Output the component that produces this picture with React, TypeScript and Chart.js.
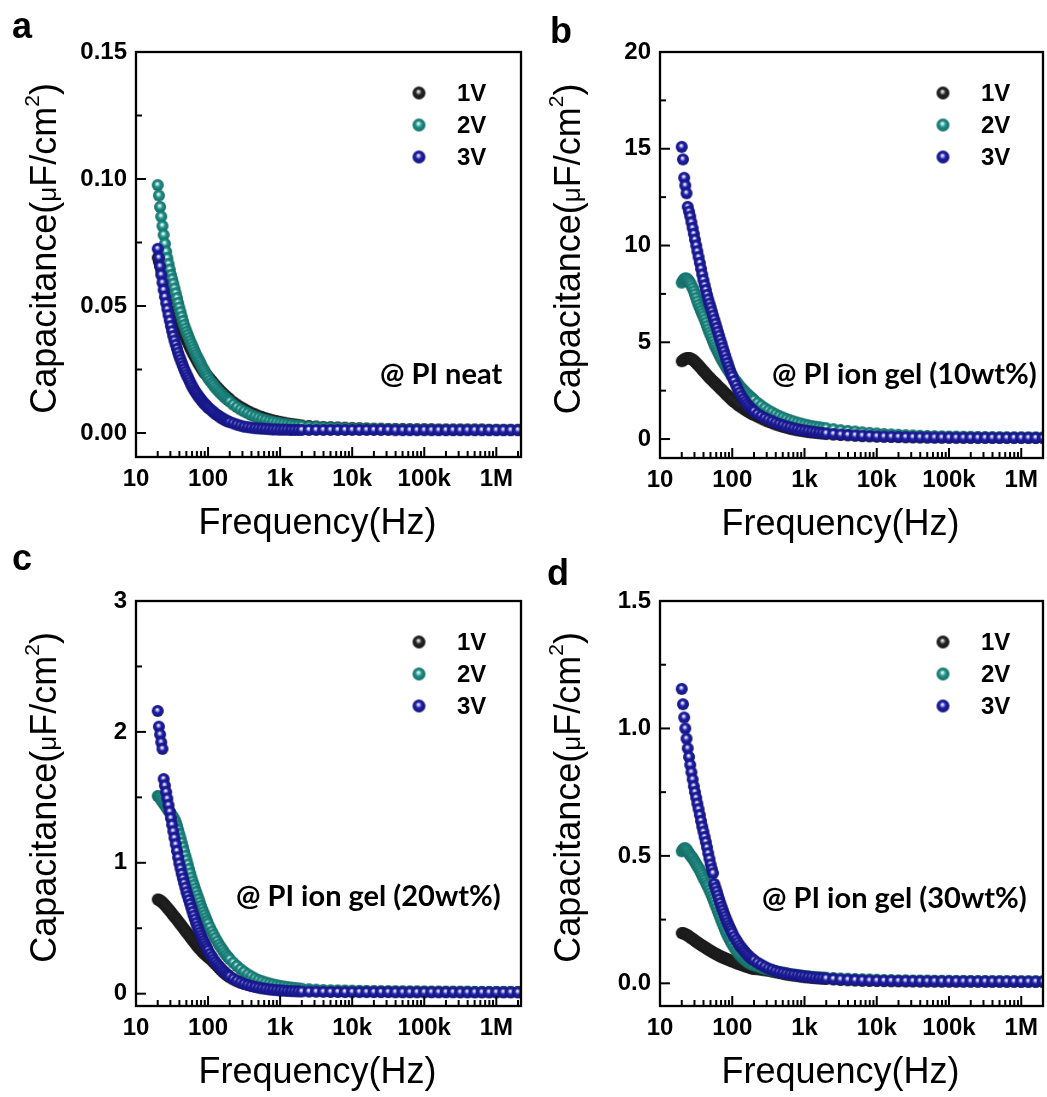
import React, { useEffect, useRef } from 'react';
import { Chart, registerables } from 'chart.js';

Chart.register(...registerables);

// ---------------- data ----------------
const FREQ = [
  20.0, 20.8, 21.6, 22.4, 23.3, 24.2, 25.2, 26.2, 27.2, 28.3,
  29.4, 30.5, 31.7, 32.9, 34.2, 35.6, 37.0, 38.4, 39.9, 41.5,
  43.1, 44.8, 46.5, 48.4, 50.2, 52.2, 54.2, 56.4, 58.6, 60.9,
  63.2, 65.7, 68.3, 71.0, 73.7, 76.6, 79.6, 82.7, 86.0, 89.3,
  92.8, 96.5, 100, 106, 113, 119, 126, 134, 142, 150,
  159, 168, 178, 189, 200, 224, 251, 282, 316, 355,
  398, 447, 501, 562, 631, 708, 794, 891, 1000, 1122,
  1259, 1413, 1585, 1778, 1995, 2512, 3162, 3981, 5012, 6310,
  7943, 10000, 12589, 15849, 19953, 25119, 31623, 39811, 50119, 63096,
  79433, 100000, 125893, 158489, 199526, 251189, 316228, 398107, 501187, 630957,
  794328, 1000000, 1258925, 1584893, 1995262,
];

// (a) PI neat
const A_1V = [
  0.0690, 0.0673, 0.0657, 0.0640, 0.0623, 0.0607, 0.0592, 0.0577, 0.0563, 0.0548,
  0.0534, 0.0520, 0.0507, 0.0494, 0.0481, 0.0468, 0.0456, 0.0444, 0.0432, 0.0421,
  0.0409, 0.0398, 0.0387, 0.0377, 0.0366, 0.0356, 0.0346, 0.0336, 0.0327, 0.0317,
  0.0308, 0.0299, 0.0291, 0.0282, 0.0274, 0.0266, 0.0258, 0.0251, 0.0243, 0.0237,
  0.0232, 0.0227, 0.0222, 0.0214, 0.0205, 0.0196, 0.0188, 0.0180, 0.0172, 0.0165,
  0.0158, 0.0151, 0.0145, 0.0139, 0.0133, 0.0122, 0.0112, 0.0103, 0.0095, 0.0087,
  0.0080, 0.0074, 0.0068, 0.0063, 0.0058, 0.0054, 0.0050, 0.0047, 0.0044, 0.0041,
  0.0038, 0.0036, 0.0034, 0.0032, 0.0030, 0.0028, 0.0026, 0.0024, 0.0023, 0.0022,
  0.0021, 0.0020, 0.0019, 0.0018, 0.0017, 0.0017, 0.0016, 0.0016, 0.0016, 0.0015,
  0.0015, 0.0015, 0.0015, 0.0014, 0.0014, 0.0014, 0.0014, 0.0014, 0.0014, 0.0014,
  0.0013, 0.0013, 0.0013, 0.0013, 0.0013,
];
const A_2V = [
  0.0976, 0.0935, 0.0890, 0.0852, 0.0815, 0.0780, 0.0745, 0.0714, 0.0688, 0.0665,
  0.0643, 0.0622, 0.0606, 0.0588, 0.0569, 0.0550, 0.0531, 0.0512, 0.0494, 0.0476,
  0.0458, 0.0441, 0.0425, 0.0411, 0.0398, 0.0386, 0.0374, 0.0362, 0.0351, 0.0340,
  0.0329, 0.0318, 0.0308, 0.0298, 0.0289, 0.0280, 0.0270, 0.0261, 0.0252, 0.0243,
  0.0234, 0.0225, 0.0216, 0.0206, 0.0197, 0.0188, 0.0179, 0.0171, 0.0163, 0.0156,
  0.0149, 0.0142, 0.0136, 0.0130, 0.0124, 0.0112, 0.0102, 0.0093, 0.0085, 0.0078,
  0.0071, 0.0065, 0.0060, 0.0055, 0.0051, 0.0047, 0.0044, 0.0041, 0.0038, 0.0036,
  0.0034, 0.0032, 0.0030, 0.0029, 0.0027, 0.0025, 0.0024, 0.0022, 0.0021, 0.0020,
  0.0019, 0.0018, 0.0017, 0.0016, 0.0016, 0.0015, 0.0015, 0.0015, 0.0014, 0.0014,
  0.0014, 0.0014, 0.0013, 0.0013, 0.0013, 0.0013, 0.0013, 0.0013, 0.0013, 0.0013,
  0.0012, 0.0012, 0.0012, 0.0012, 0.0012,
];
const A_3V = [
  0.0725, 0.0690, 0.0656, 0.0623, 0.0592, 0.0563, 0.0536, 0.0511, 0.0487, 0.0464,
  0.0442, 0.0421, 0.0401, 0.0382, 0.0364, 0.0347, 0.0331, 0.0316, 0.0302, 0.0289,
  0.0276, 0.0264, 0.0252, 0.0241, 0.0230, 0.0220, 0.0210, 0.0200, 0.0190, 0.0181,
  0.0172, 0.0165, 0.0158, 0.0151, 0.0144, 0.0138, 0.0132, 0.0126, 0.0120, 0.0115,
  0.0110, 0.0105, 0.0100, 0.0094, 0.0088, 0.0082, 0.0076, 0.0071, 0.0066, 0.0061,
  0.0057, 0.0053, 0.0049, 0.0046, 0.0043, 0.0038, 0.0033, 0.0029, 0.0025, 0.0023,
  0.0021, 0.0019, 0.0018, 0.0017, 0.0016, 0.0015, 0.0014, 0.0014, 0.0013, 0.0013,
  0.0013, 0.0012, 0.0012, 0.0012, 0.0012, 0.0012, 0.0012, 0.0012, 0.0012, 0.0012,
  0.0012, 0.0012, 0.0012, 0.0012, 0.0012, 0.0012, 0.0012, 0.0011, 0.0011, 0.0011,
  0.0011, 0.0011, 0.0011, 0.0011, 0.0011, 0.0011, 0.0011, 0.0011, 0.0011, 0.0011,
  0.0011, 0.0011, 0.0011, 0.0011, 0.0011,
];

// (b) PI ion gel 10wt%
const B_1V = [
  4.02, 4.07, 4.11, 4.15, 4.17, 4.19, 4.19, 4.17, 4.14, 4.10,
  4.05, 4.00, 3.94, 3.87, 3.80, 3.73, 3.66, 3.59, 3.52, 3.45,
  3.38, 3.31, 3.24, 3.18, 3.11, 3.05, 2.99, 2.93, 2.87, 2.81,
  2.74, 2.68, 2.62, 2.56, 2.50, 2.44, 2.37, 2.31, 2.25, 2.19,
  2.12, 2.06, 2.00, 1.92, 1.85, 1.77, 1.70, 1.64, 1.58, 1.52,
  1.46, 1.40, 1.34, 1.29, 1.24, 1.15, 1.06, 0.97, 0.89, 0.82,
  0.75, 0.69, 0.63, 0.58, 0.53, 0.49, 0.45, 0.42, 0.39, 0.36,
  0.34, 0.32, 0.30, 0.28, 0.26, 0.23, 0.21, 0.19, 0.17, 0.15,
  0.14, 0.13, 0.12, 0.11, 0.10, 0.095, 0.09, 0.085, 0.08, 0.078,
  0.075, 0.072, 0.07, 0.068, 0.066, 0.065, 0.064, 0.063, 0.062, 0.061,
  0.06, 0.06, 0.059, 0.058, 0.058,
];
const B_2V = [
  8.08, 8.18, 8.26, 8.30, 8.29, 8.24, 8.16, 8.06, 7.94, 7.80,
  7.64, 7.47, 7.29, 7.11, 6.93, 6.77, 6.62, 6.48, 6.34, 6.18,
  6.01, 5.84, 5.67, 5.51, 5.36, 5.20, 5.05, 4.90, 4.76, 4.63,
  4.51, 4.38, 4.26, 4.14, 4.02, 3.92, 3.82, 3.72, 3.62, 3.52,
  3.42, 3.33, 3.24, 3.11, 2.99, 2.87, 2.75, 2.64, 2.54, 2.44,
  2.35, 2.26, 2.18, 2.10, 2.02, 1.87, 1.73, 1.60, 1.48, 1.38,
  1.28, 1.19, 1.11, 1.04, 0.97, 0.91, 0.85, 0.80, 0.75, 0.71,
  0.67, 0.64, 0.61, 0.58, 0.56, 0.51, 0.46, 0.42, 0.39, 0.35,
  0.32, 0.29, 0.26, 0.24, 0.22, 0.20, 0.185, 0.17, 0.16, 0.15,
  0.14, 0.13, 0.125, 0.12, 0.115, 0.11, 0.105, 0.10, 0.098, 0.095,
  0.092, 0.09, 0.088, 0.086, 0.085,
];
const B_3V = [
  15.1, 14.45, 13.5, 13.1, 12.7, 12.0, 11.75, 11.5, 11.2, 10.9,
  10.6, 10.3, 10.0, 9.7, 9.4, 9.1, 8.8, 8.5, 8.22, 7.95,
  7.7, 7.45, 7.22, 7.0, 6.8, 6.59, 6.38, 6.17, 5.96, 5.75,
  5.54, 5.34, 5.13, 4.93, 4.72, 4.52, 4.32, 4.12, 3.93, 3.74,
  3.56, 3.39, 3.23, 3.0, 2.78, 2.58, 2.40, 2.23, 2.07, 1.93,
  1.81, 1.70, 1.60, 1.51, 1.43, 1.30, 1.19, 1.09, 1.00, 0.92,
  0.84, 0.77, 0.71, 0.65, 0.60, 0.55, 0.51, 0.47, 0.44, 0.41,
  0.38, 0.355, 0.33, 0.31, 0.29, 0.26, 0.23, 0.21, 0.19, 0.17,
  0.155, 0.14, 0.13, 0.12, 0.11, 0.10, 0.095, 0.09, 0.085, 0.08,
  0.078, 0.075, 0.072, 0.07, 0.068, 0.066, 0.065, 0.064, 0.063, 0.062,
  0.061, 0.06, 0.06, 0.059, 0.058,
];

// (c) PI ion gel 20wt%
const C_1V = [
  0.720, 0.717, 0.712, 0.705, 0.697, 0.688, 0.678, 0.667, 0.656, 0.645,
  0.634, 0.623, 0.612, 0.600, 0.588, 0.577, 0.565, 0.554, 0.542, 0.530,
  0.518, 0.506, 0.494, 0.482, 0.470, 0.458, 0.446, 0.434, 0.422, 0.410,
  0.398, 0.386, 0.374, 0.363, 0.352, 0.342, 0.332, 0.322, 0.313, 0.304,
  0.295, 0.287, 0.279, 0.267, 0.254, 0.240, 0.226, 0.211, 0.196, 0.182,
  0.169, 0.157, 0.146, 0.135, 0.125, 0.109, 0.096, 0.085, 0.076, 0.068,
  0.062, 0.056, 0.051, 0.047, 0.043, 0.040, 0.037, 0.035, 0.033, 0.031,
  0.029, 0.028, 0.027, 0.026, 0.025, 0.024, 0.022, 0.021, 0.020, 0.019,
  0.019, 0.018, 0.018, 0.017, 0.017, 0.016, 0.016, 0.016, 0.015, 0.015,
  0.015, 0.015, 0.014, 0.014, 0.014, 0.014, 0.014, 0.014, 0.013, 0.013,
  0.013, 0.013, 0.013, 0.013, 0.013,
];
const C_2V = [
  1.510, 1.507, 1.497, 1.480, 1.467, 1.453, 1.440, 1.427, 1.413, 1.400,
  1.387, 1.373, 1.360, 1.347, 1.330, 1.310, 1.283, 1.253, 1.220, 1.187,
  1.153, 1.120, 1.087, 1.053, 1.020, 0.987, 0.953, 0.920, 0.887, 0.857,
  0.830, 0.803, 0.777, 0.750, 0.723, 0.697, 0.670, 0.647, 0.623, 0.600,
  0.577, 0.555, 0.535, 0.505, 0.475, 0.450, 0.425, 0.400, 0.375, 0.355,
  0.335, 0.315, 0.297, 0.280, 0.264, 0.237, 0.212, 0.188, 0.167, 0.148,
  0.132, 0.117, 0.105, 0.095, 0.086, 0.078, 0.071, 0.065, 0.060, 0.055,
  0.051, 0.047, 0.044, 0.041, 0.038, 0.034, 0.031, 0.028, 0.026, 0.025,
  0.024, 0.023, 0.022, 0.021, 0.020, 0.019, 0.019, 0.018, 0.018, 0.017,
  0.017, 0.016, 0.016, 0.016, 0.015, 0.015, 0.015, 0.015, 0.014, 0.014,
  0.014, 0.014, 0.014, 0.014, 0.014,
];
const C_3V = [
  2.16, 2.04, 1.98, 1.92, 1.87, 1.64, 1.59, 1.54, 1.49, 1.44,
  1.39, 1.34, 1.29, 1.24, 1.19, 1.14, 1.09, 1.04, 0.995, 0.955,
  0.915, 0.880, 0.845, 0.810, 0.775, 0.745, 0.715, 0.685, 0.655, 0.625,
  0.595, 0.567, 0.540, 0.514, 0.490, 0.467, 0.445, 0.424, 0.404, 0.385,
  0.366, 0.348, 0.330, 0.305, 0.283, 0.262, 0.243, 0.225, 0.209, 0.194,
  0.180, 0.166, 0.154, 0.143, 0.132, 0.114, 0.099, 0.086, 0.075, 0.066,
  0.058, 0.052, 0.046, 0.041, 0.037, 0.033, 0.030, 0.027, 0.025, 0.023,
  0.021, 0.020, 0.019, 0.018, 0.017, 0.016, 0.015, 0.014, 0.013, 0.013,
  0.012, 0.012, 0.012, 0.012, 0.012, 0.012, 0.012, 0.011, 0.011, 0.011,
  0.011, 0.011, 0.011, 0.011, 0.011, 0.011, 0.010, 0.010, 0.010, 0.010,
  0.010, 0.010, 0.010, 0.010, 0.010,
];

// (d) PI ion gel 30wt%
const D_1V = [
  0.197, 0.197, 0.195, 0.193, 0.190, 0.188, 0.184, 0.181, 0.177, 0.174,
  0.171, 0.167, 0.164, 0.161, 0.157, 0.154, 0.151, 0.148, 0.145, 0.142,
  0.139, 0.136, 0.133, 0.130, 0.127, 0.124, 0.122, 0.119, 0.116, 0.114,
  0.111, 0.109, 0.106, 0.104, 0.102, 0.100, 0.098, 0.096, 0.094, 0.092,
  0.090, 0.088, 0.086, 0.083, 0.080, 0.077, 0.075, 0.072, 0.070, 0.067,
  0.065, 0.063, 0.060, 0.058, 0.056, 0.055, 0.053, 0.051, 0.049, 0.046,
  0.043, 0.040, 0.037, 0.034, 0.032, 0.030, 0.028, 0.026, 0.024, 0.023,
  0.021, 0.020, 0.019, 0.018, 0.017, 0.015, 0.013, 0.012, 0.011, 0.010,
  0.0095, 0.009, 0.0085, 0.008, 0.008, 0.0075, 0.0075, 0.007, 0.007, 0.007,
  0.0068, 0.0066, 0.0065, 0.0064, 0.0063, 0.0062, 0.0061, 0.006, 0.006, 0.006,
  0.0059, 0.0058, 0.0058, 0.0057, 0.0057,
];
const D_2V = [
  0.518, 0.525, 0.529, 0.530, 0.525, 0.518, 0.510, 0.503, 0.497, 0.491,
  0.483, 0.476, 0.468, 0.460, 0.452, 0.443, 0.434, 0.424, 0.414, 0.405,
  0.395, 0.386, 0.377, 0.366, 0.355, 0.343, 0.332, 0.320, 0.307, 0.295,
  0.282, 0.270, 0.258, 0.245, 0.233, 0.221, 0.210, 0.199, 0.189, 0.179,
  0.170, 0.161, 0.153, 0.141, 0.130, 0.120, 0.112, 0.104, 0.097, 0.091,
  0.086, 0.081, 0.077, 0.074, 0.071, 0.066, 0.061, 0.057, 0.054, 0.051,
  0.048, 0.045, 0.042, 0.040, 0.037, 0.035, 0.033, 0.031, 0.029, 0.028,
  0.026, 0.025, 0.024, 0.023, 0.022, 0.021, 0.019, 0.018, 0.017, 0.016,
  0.015, 0.014, 0.013, 0.013, 0.012, 0.012, 0.011, 0.011, 0.011, 0.010,
  0.010, 0.010, 0.0095, 0.0095, 0.009, 0.009, 0.009, 0.0088, 0.0086, 0.0085,
  0.0084, 0.0082, 0.0081, 0.008, 0.008,
];
const D_3V = [
  1.155, 1.095, 1.043, 1.000, 0.960, 0.922, 0.888, 0.857, 0.828, 0.800,
  0.773, 0.750, 0.728, 0.705, 0.683, 0.660, 0.637, 0.615, 0.595, 0.574,
  0.554, 0.533, 0.510, 0.488, 0.466, 0.448, 0.432, 0.390, 0.375, 0.360,
  0.345, 0.330, 0.315, 0.300, 0.287, 0.274, 0.262, 0.250, 0.238, 0.227,
  0.217, 0.207, 0.197, 0.183, 0.171, 0.160, 0.149, 0.140, 0.131, 0.123,
  0.115, 0.108, 0.101, 0.095, 0.090, 0.081, 0.073, 0.065, 0.058, 0.053,
  0.048, 0.044, 0.041, 0.038, 0.035, 0.033, 0.031, 0.029, 0.027, 0.025,
  0.024, 0.022, 0.021, 0.020, 0.019, 0.017, 0.015, 0.014, 0.013, 0.012,
  0.011, 0.0105, 0.010, 0.0095, 0.009, 0.0088, 0.0085, 0.0083, 0.008, 0.008,
  0.0078, 0.0077, 0.0076, 0.0075, 0.0074, 0.0073, 0.0072, 0.0071, 0.007, 0.007,
  0.0069, 0.0068, 0.0068, 0.0067, 0.0067,
];

const X_TICKS = [10, 100, 1000, 10000, 100000, 1000000];
const X_LABELS = ['10', '100', '1k', '10k', '100k', '1M'];
const A_Y_TICKS = [0, 0.05, 0.1, 0.15];
const A_Y_LABELS = ['0.00', '0.05', '0.10', '0.15'];
const B_Y_TICKS = [0, 5, 10, 15, 20];
const B_Y_LABELS = ['0', '5', '10', '15', '20'];
const C_Y_TICKS = [0, 1, 2, 3];
const C_Y_LABELS = ['0', '1', '2', '3'];
const D_Y_TICKS = [0, 0.5, 1, 1.5];
const D_Y_LABELS = ['0.0', '0.5', '1.0', '1.5'];
const SERIES_NAMES = ['1V', '2V', '3V'];
const PANEL_LETTERS = ['a', 'b', 'c', 'd'];
const PANEL_NOTES = ['@ PI neat', '@ PI ion gel (10wt%)', '@ PI ion gel (20wt%)', '@ PI ion gel (30wt%)'];

// ---------------- styling ----------------
const FONT = '"Liberation Sans", Arial, Helvetica, sans-serif';
const NOTE_FONT = 'Lato, "Open Sans", sans-serif';
const SERIES_RGB = [
  [36, 36, 36],
  [30, 148, 140],
  [30, 30, 170],
];

type Box = { l: number; t: number; r: number; b: number };
type Panel = {
  x: number; y: number; w: number; h: number;
  box: Box;
  xMax: number; yMin: number; yMax: number;
  yTicks: number[]; yLabels: string[];
  series: number[][];
  letter: string; letterX: number; letterY: number;
  note: string; noteX: number; noteY: number;
  titleDy: number;
};

const PANELS: Panel[] = [
  {
    x: 0, y: 0, w: 523, h: 548, box: { l: 136, t: 52, r: 521, b: 457 },
    xMax: 2.2e6, yMin: -0.00945, yMax: 0.15, yTicks: A_Y_TICKS, yLabels: A_Y_LABELS,
    series: [A_1V, A_2V, A_3V], letter: PANEL_LETTERS[0], letterX: 12, letterY: 38,
    note: PANEL_NOTES[0], noteX: 380, noteY: 375, titleDy: 64,
  },
  {
    x: 523, y: 0, w: 524, h: 548, box: { l: 137, t: 52, r: 520, b: 458 },
    xMax: 2.0e6, yMin: -0.98, yMax: 20, yTicks: B_Y_TICKS, yLabels: B_Y_LABELS,
    series: [B_1V, B_2V, B_3V], letter: PANEL_LETTERS[1], letterX: 27, letterY: 43,
    note: PANEL_NOTES[1], noteX: 249, noteY: 375, titleDy: 64,
  },
  {
    x: 0, y: 548, w: 523, h: 549, box: { l: 136, t: 53, r: 521, b: 458 },
    xMax: 2.2e6, yMin: -0.094, yMax: 3, yTicks: C_Y_TICKS, yLabels: C_Y_LABELS,
    series: [C_1V, C_2V, C_3V], letter: PANEL_LETTERS[2], letterX: 12, letterY: 22,
    note: PANEL_NOTES[2], noteX: 236, noteY: 349, titleDy: 64,
  },
  {
    x: 523, y: 548, w: 524, h: 549, box: { l: 137, t: 53, r: 520, b: 458 },
    xMax: 2.0e6, yMin: -0.089, yMax: 1.5, yTicks: D_Y_TICKS, yLabels: D_Y_LABELS,
    series: [D_1V, D_2V, D_3V], letter: PANEL_LETTERS[3], letterX: 24, letterY: 37,
    note: PANEL_NOTES[3], noteX: 239, noteY: 351, titleDy: 64,
  },
];

function makeSphere(rgb: number[], r: number): HTMLCanvasElement {
  const size = Math.ceil(2 * r + 2);
  const c = document.createElement('canvas');
  c.width = size;
  c.height = size;
  const g = c.getContext('2d') as CanvasRenderingContext2D;
  const cx = size / 2;
  const cy = size / 2;
  const [R, G, B] = rgb;
  const mix = (a: number, t: number) => Math.round(a + (255 - a) * t);
  const dark = (a: number, t: number) => Math.round(a * t);
  const grad = g.createRadialGradient(cx - r * 0.1, cy - r * 0.25, r * 0.04, cx, cy, r);
  grad.addColorStop(0, 'rgb(255,255,255)');
  grad.addColorStop(0.17, `rgb(${mix(R, 0.65)},${mix(G, 0.65)},${mix(B, 0.65)})`);
  grad.addColorStop(0.45, `rgb(${R},${G},${B})`);
  grad.addColorStop(1, `rgb(${dark(R, 0.7)},${dark(G, 0.7)},${dark(B, 0.7)})`);
  g.fillStyle = grad;
  g.beginPath();
  g.arc(cx, cy, r, 0, Math.PI * 2);
  g.fill();
  return c;
}

function PanelChart({ p }: { p: Panel }) {
  const ref = useRef<HTMLCanvasElement | null>(null);

  useEffect(() => {
    const canvas = ref.current;
    if (!canvas) return;
    const spheres = SERIES_RGB.map((c) => makeSphere(c, 6));
    const legendSpheres = SERIES_RGB.map((c) => makeSphere(c, 6.5));

    const decor = {
      id: 'decor',
      afterDatasetsDraw(chart: any) {
        const ctx: CanvasRenderingContext2D = chart.ctx;
        const ca = chart.chartArea;
        const xs = chart.scales.x;
        const ys = chart.scales.y;
        ctx.save();
        ctx.strokeStyle = '#000';
        ctx.lineWidth = 2;
        const seg = (x1: number, y1: number, x2: number, y2: number) => {
          ctx.beginPath();
          ctx.moveTo(x1, y1);
          ctx.lineTo(x2, y2);
          ctx.stroke();
        };
        p.yTicks.forEach((v, i) => {
          const py = ys.getPixelForValue(v);
          seg(ca.left, py, ca.left + 10, py);
          if (i < p.yTicks.length - 1) {
            const pm = ys.getPixelForValue((v + p.yTicks[i + 1]) / 2);
            seg(ca.left, pm, ca.left + 6, pm);
          }
        });
        X_TICKS.forEach((d) => {
          const px = xs.getPixelForValue(d);
          seg(px, ca.bottom, px, ca.bottom - 10);
          for (let m = 2; m <= 9; m++) {
            const v = d * m;
            if (v < p.xMax) {
              const q = xs.getPixelForValue(v);
              seg(q, ca.bottom, q, ca.bottom - 6);
            }
          }
        });
        ctx.lineWidth = 2.3;
        ctx.strokeRect(ca.left, ca.top, ca.right - ca.left, ca.bottom - ca.top);

        // legend
        ctx.fillStyle = '#000';
        ctx.font = `bold 24px ${FONT}`;
        ctx.textBaseline = 'middle';
        ctx.textAlign = 'left';
        const rows = [41, 73, 105];
        SERIES_NAMES.forEach((name, i) => {
          const img = legendSpheres[i];
          const cy = ca.top + rows[i];
          ctx.drawImage(img, ca.left + 283 - img.width / 2, cy - img.height / 2);
          ctx.fillText(name, ca.left + 321, cy + 1);
        });

        // note
        ctx.font = `bold 29px ${NOTE_FONT}`;
        ctx.fillText(p.note, p.noteX, p.noteY);

        // x title
        ctx.font = `36px ${FONT}`;
        ctx.textAlign = 'center';
        ctx.textBaseline = 'alphabetic';
        ctx.fillText('Frequency(Hz)', (ca.left + ca.right) / 2 - 11, ca.bottom + p.titleDy + 13);

        // y title with mixed sizes
        const segs = [
          { t: 'Capacitance(', f: `36px ${FONT}`, dy: 0 },
          { t: 'μ', f: `26px ${FONT}`, dy: 0 },
          { t: 'F/cm', f: `36px ${FONT}`, dy: 0 },
          { t: '2', f: `21px ${FONT}`, dy: -17 },
          { t: ')', f: `36px ${FONT}`, dy: 0 },
        ];
        let total = 0;
        const widths = segs.map((s) => {
          ctx.font = s.f;
          const w = ctx.measureText(s.t).width;
          total += w;
          return w;
        });
        ctx.save();
        ctx.translate(ca.left - 93, (ca.top + ca.bottom) / 2 - 6);
        ctx.rotate(-Math.PI / 2);
        ctx.textAlign = 'left';
        let xx = -total / 2;
        segs.forEach((s, i) => {
          ctx.font = s.f;
          ctx.fillText(s.t, xx, 13 + s.dy);
          xx += widths[i];
        });
        ctx.restore();

        // panel letter
        ctx.font = `bold 36px ${FONT}`;
        ctx.textAlign = 'left';
        ctx.textBaseline = 'alphabetic';
        ctx.fillText(p.letter, p.letterX, p.letterY);
        ctx.restore();
      },
    };

    const chart = new Chart(canvas, {
      type: 'scatter',
      data: {
        datasets: p.series.map((vals, i) => ({
          label: SERIES_NAMES[i],
          data: FREQ.map((f, j) => ({ x: f, y: vals[j] })),
          pointStyle: spheres[i] as any,
          pointRadius: 6,
          pointHoverRadius: 6,
          pointBorderWidth: 0,
          showLine: false,
          order: 2 - i,
          clip: 0 as any,
        })),
      },
      options: {
        animation: false,
        responsive: false,
        devicePixelRatio: 1,
        events: [],
        layout: {
          autoPadding: false,
          padding: { left: 0, top: p.box.t, right: p.w - p.box.r, bottom: 0 },
        },
        plugins: { legend: { display: false }, tooltip: { enabled: false }, title: { display: false } },
        scales: {
          x: {
            type: 'logarithmic',
            position: 'bottom',
            min: 10,
            max: p.xMax,
            afterBuildTicks: (s: any) => {
              s.ticks = X_TICKS.map((v) => ({ value: v }));
            },
            afterFit: (s: any) => {
              s.height = p.h - p.box.b;
            },
            grid: { display: false, drawTicks: false },
            border: { display: false },
            ticks: {
              autoSkip: false,
              maxRotation: 0,
              minRotation: 0,
              padding: 8,
              color: '#000',
              font: { family: FONT, size: 24, weight: 'bold' },
              callback: (_v: any, i: number) => X_LABELS[i],
            },
          },
          y: {
            type: 'linear',
            position: 'left',
            min: p.yMin,
            max: p.yMax,
            afterBuildTicks: (s: any) => {
              s.ticks = p.yTicks.map((v) => ({ value: v }));
            },
            afterFit: (s: any) => {
              s.width = p.box.l;
            },
            grid: { display: false, drawTicks: false },
            border: { display: false },
            ticks: {
              autoSkip: false,
              padding: 9,
              color: '#000',
              font: { family: FONT, size: 24, weight: 'bold' },
              callback: (_v: any, i: number) => p.yLabels[i],
            },
          },
        },
      } as any,
      plugins: [decor],
    });
    return () => chart.destroy();
  }, [p]);

  return (
    <canvas
      ref={ref}
      width={p.w}
      height={p.h}
      style={{ position: 'absolute', left: p.x, top: p.y, width: p.w, height: p.h }}
    />
  );
}

export default function App() {
  return (
    <div style={{ position: 'absolute', left: 0, top: 0, width: 1047, height: 1097, background: '#fff', overflow: 'hidden' }}>
      {PANELS.map((p, i) => (
        <PanelChart key={i} p={p} />
      ))}
    </div>
  );
}
